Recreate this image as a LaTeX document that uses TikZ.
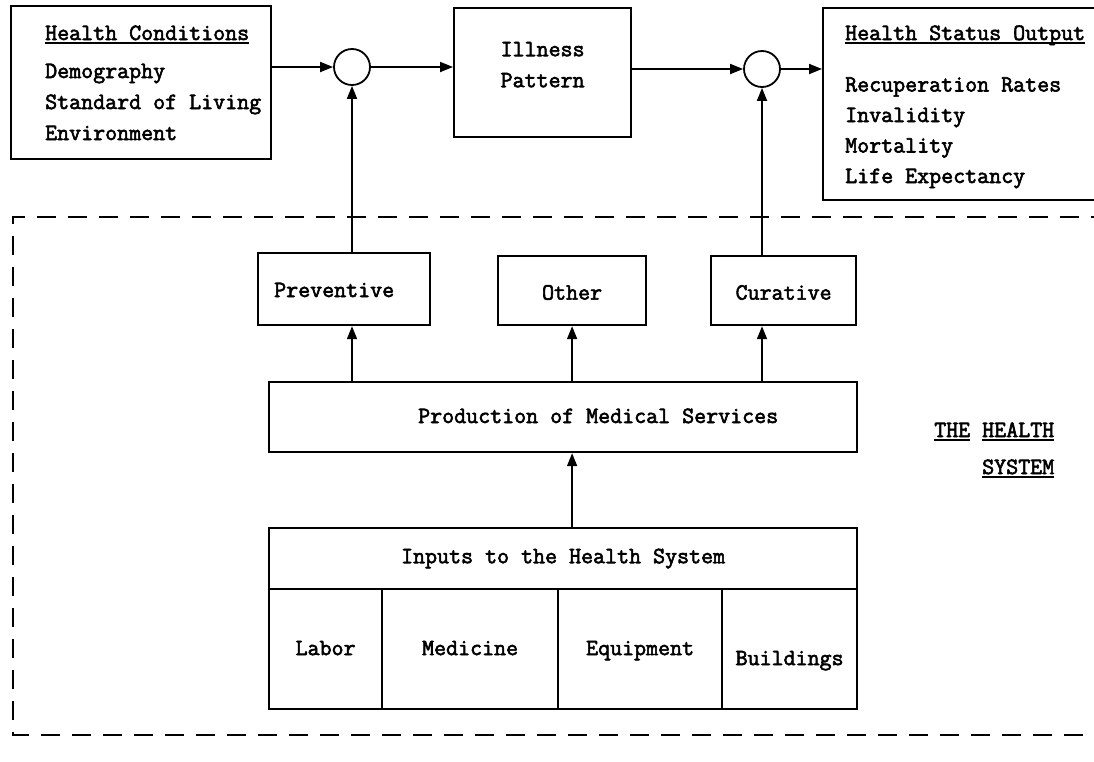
\documentclass[tikz,border=0pt]{standalone}
\usepackage{fontspec}
\newfontfamily\typewriter{Latin Modern Mono}[FakeBold=2.5]
\usetikzlibrary{arrows.meta, positioning}

% typewriter style underline at a fixed depth
\newcommand{\tunder}[1]{\setbox0\hbox{#1}\rlap{\rule[-3.5pt]{\wd0}{1.6pt}}\box0}

\begin{document}
\begin{tikzpicture}[x=1pt, y=-1pt, font=\fontsize{23.3}{31}\selectfont\typewriter]
		\tikzstyle{block} = [rectangle, draw=black, line width=2.2pt, inner sep=0pt, anchor=north west]
		
		\tikzstyle{junction} = [circle, draw=black, line width=1.8pt, minimum size=36pt, inner sep=0pt]
		
		\tikzstyle{txt} = [inner sep=0pt, anchor=base west]
		
		\tikzstyle{cell} = [block, minimum height=120pt, text height=12pt, text depth=0pt]
		
		\tikzstyle{arrow} = [line width=1.8pt, -{Triangle[length=13pt, width=10pt]}]
		
		\tikzstyle{frame} = [line width=2pt, dash pattern=on 19pt off 12pt]
		
		\clip (0,0) rectangle (1094,761);
		\fill[white] (0,0) rectangle (1094,761);
		
		% Top row: conditions, illness pattern, health status
		\node (cond) [block, minimum width=260pt, minimum height=153pt] at (10,5) {};
		\node (condhead) [txt] at (45,40) {\tunder{Health Conditions}};
		\foreach \item [count=\i] in {Demography, Standard of Living, Environment}
			\node (cond\i) [txt] at (45,47+31*\i) {\item};
		
		\node (circa) [junction] at (352,67) {};
		\node (ill) [block, minimum width=177pt, minimum height=129pt, align=center, text depth=16pt] at (453,7) {Illness\\Pattern};
		\node (circb) [junction] at (762,69) {};
		
		\node (out) [block, minimum width=290pt, minimum height=192pt] at (822,7) {};
		\node (outhead) [txt] at (845,40) {\tunder{Health Status Output}};
		\foreach \item [count=\i] in {Recuperation Rates, Invalidity, Mortality, Life Expectancy}
			\node (out\i) [txt] at (845,61+30.5*\i) {\item};
		
		% The health system
		\draw [frame] (1110,217) -- (13,217) -- (13,735) -- (1110,735);
		\node (systop) [txt] at (934,437) {\tunder{THE}~\tunder{HEALTH}};
		\node (sysbot) [txt] at (982,474) {\tunder{SYSTEM}};
		
		% Level 1 nodes
		\node (prev) [block, minimum width=172pt, minimum height=72pt] at (257,252) {};
		\node (prevtext) [txt] at (274,297) {Preventive};
		\node (other) [block, minimum width=148pt, minimum height=69pt, text height=18pt, text depth=0pt] at (497,255) {Other};
		\node (cur) [block, minimum width=145pt, minimum height=69pt, text height=18pt, text depth=0pt] at (710,255) {Curative};
		
		% Level 2 nodes
		\node (prod) [block, minimum width=588pt, minimum height=70pt] at (268,381) {};
		\node (prodtext) [txt] at (418,423) {Production of Medical Services};
		
		% Level 3 nodes
		\node (inp) [block, minimum width=588pt, minimum height=61pt] at (268,527) {Inputs to the Health System};
		\node (labor) [cell, minimum width=113pt] at (268,588) {Labor};
		\node (medi) [cell, minimum width=176pt] at (381,588) {Medicine};
		\node (equip) [cell, minimum width=164pt] at (557,588) {Equipment};
		\node (build) [cell, minimum width=135pt, text height=32pt] at (721,588) {Buildings};
		
		% Arrows
		\draw [arrow] (cond.east |- circa) -- (circa.west);
		\draw [arrow] (circa.east) -- (ill.west |- circa);
		\draw [arrow] (ill.east |- circb) -- (circb.west);
		\draw [arrow] (circb.east) -- (out.west |- circb);
		\draw [arrow] (prev.north -| circa) -- (circa.south);
		\draw [arrow] (cur.north -| circb) -- (circb.south);
		\draw [arrow] (prod.north -| circa) -- (prev.south -| circa);
		\draw [arrow] (prod.north -| other) -- (other.south);
		\draw [arrow] (prod.north -| circb) -- (cur.south -| circb);
		\draw [arrow] (inp.north -| other) -- (prod.south -| other);
	\end{tikzpicture}
\end{document}
